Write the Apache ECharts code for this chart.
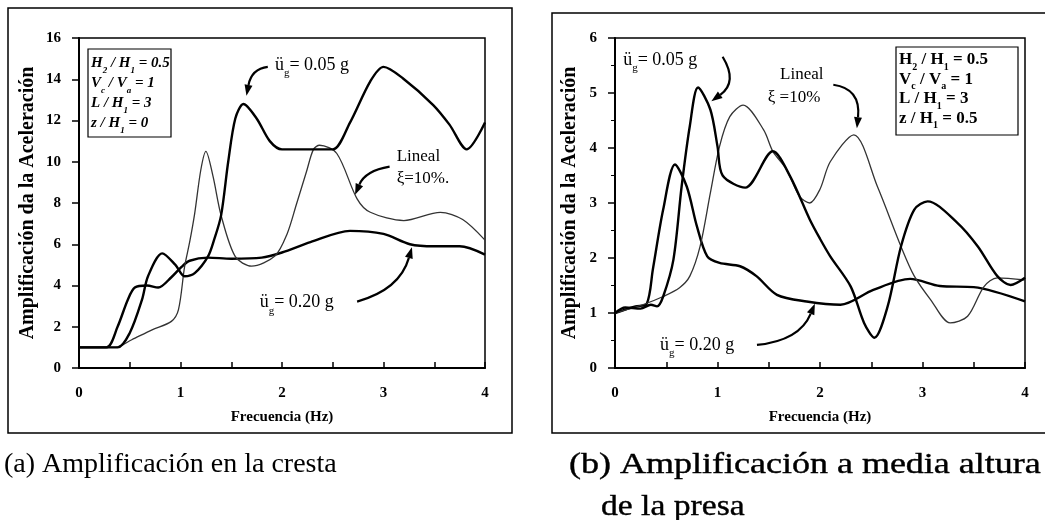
<!DOCTYPE html>
<html><head><meta charset="utf-8">
<script src="https://cdn.jsdelivr.net/npm/echarts@6/dist/echarts.min.js"></script>
<style>html,body{margin:0;padding:0;background:#fff}#c{width:1045px;height:520px}</style>
</head><body><div id="c"></div>
<script>
// ---------- Data: panel (a) crest ----------
const freqA005 = [0, 0.38, 0.5, 0.62, 0.68, 0.82, 0.95, 1.04, 1.14, 1.27, 1.33, 1.4, 1.47, 1.54, 1.62, 1.75, 1.88, 2.0, 2.3, 2.5, 2.67, 2.87, 3.0, 3.19, 3.49, 3.65, 3.82, 4.0];
const ampA005  = [1, 1, 1.7, 3.3, 4.45, 5.56, 5.0, 4.45, 4.6, 5.4, 6.2, 7.4, 10.0, 12.1, 12.8, 12.1, 11.0, 10.6, 10.6, 10.6, 11.9, 13.9, 14.6, 14.05, 12.75, 11.8, 10.6, 11.9];
const freqALin = [0, 0.36, 0.52, 0.72, 0.91, 0.98, 1.04, 1.09, 1.14, 1.2, 1.25, 1.32, 1.4, 1.54, 1.7, 1.93, 2.05, 2.14, 2.24, 2.31, 2.37, 2.54, 2.74, 2.87, 3.2, 3.56, 3.78, 4.0];
const ampALin  = [1, 1, 1.37, 1.85, 2.26, 2.83, 4.9, 6.1, 7.5, 9.6, 10.5, 9.3, 7.4, 5.4, 4.94, 5.43, 6.5, 7.9, 9.5, 10.6, 10.8, 10.4, 8.2, 7.55, 7.15, 7.55, 7.2, 6.2];
const freqA020 = [0, 0.27, 0.38, 0.48, 0.55, 0.67, 0.78, 0.91, 1.01, 1.09, 1.27, 1.5, 1.8, 2.0, 2.28, 2.67, 3.0, 3.26, 3.5, 3.75, 4.0];
const ampA020  = [1, 1, 2.0, 3.3, 3.9, 4.0, 3.9, 4.4, 4.9, 5.2, 5.35, 5.3, 5.35, 5.6, 6.1, 6.65, 6.5, 6.0, 5.9, 5.9, 5.5];

// ---------- Data: panel (b) mid-height ----------
const freqB005 = [0, 0.1, 0.25, 0.35, 0.41, 0.47, 0.57, 0.65, 0.73, 0.81, 0.93, 1.0, 1.05, 1.27, 1.54, 1.71, 1.9, 2.0, 2.1, 2.3, 2.43, 2.53, 2.66, 2.79, 2.92, 3.05, 3.34, 3.54, 3.73, 3.86, 4.0];
const ampB005  = [1.0, 1.1, 1.08, 1.15, 1.12, 1.3, 1.97, 3.3, 4.4, 5.1, 4.7, 4.03, 3.5, 3.28, 3.94, 3.48, 2.7, 2.35, 2.03, 1.48, 0.82, 0.55, 1.12, 2.21, 2.88, 3.03, 2.64, 2.21, 1.67, 1.51, 1.64];
const freqBLin = [0, 0.27, 0.47, 0.63, 0.73, 0.83, 0.93, 1.02, 1.12, 1.25, 1.45, 1.54, 1.67, 1.8, 1.9, 2.0, 2.1, 2.33, 2.56, 2.79, 2.92, 3.08, 3.27, 3.44, 3.6, 3.73, 4.0];
const ampBLin  = [1.0, 1.15, 1.3, 1.46, 1.67, 2.21, 3.18, 4.03, 4.57, 4.78, 4.33, 3.94, 3.62, 3.12, 3.0, 3.25, 3.75, 4.24, 3.3, 2.21, 1.67, 1.24, 0.82, 0.94, 1.48, 1.64, 1.6];
const freqB020 = [0, 0.2, 0.31, 0.37, 0.47, 0.585, 0.7, 0.8, 0.9, 1.02, 1.22, 1.38, 1.58, 1.87, 2.2, 2.52, 2.88, 3.17, 3.5, 4.0];
const ampB020  = [1.0, 1.12, 1.17, 1.8, 2.88, 3.7, 3.3, 2.57, 2.03, 1.91, 1.85, 1.67, 1.33, 1.21, 1.15, 1.42, 1.62, 1.49, 1.47, 1.21];

// Axis ranges / ticks
const xRange = [0, 4], xStep = 1;
const yRangeA = [0, 16], yStepA = 2;
const yRangeB = [0, 6], yStepB = 1;

// Texts
const yTitle = 'Amplificación da la Aceleración';
const xTitle = 'Frecuencia (Hz)';
const captionA = '(a) Amplificación en la cresta';
const captionB1 = '(b) Amplificación a media altura';
const captionB2 = 'de la presa';

const zip = (xs, ys) => xs.map((x, i) => [x, ys[i]]);
const SERIF = '"Liberation Serif", "DejaVu Serif", serif';

function xAxisCfg(g) {
  return {
    type: 'value', gridIndex: g, min: xRange[0], max: xRange[1], interval: xStep,
    axisLine: { show: true, onZero: false, lineStyle: { color: '#000', width: 2 } },
    axisTick: { show: true, inside: true, length: 6, lineStyle: { color: '#000', width: 1.5 } },
    minorTick: { show: true, splitNumber: 2, length: 6, lineStyle: { color: '#000', width: 1.5 } },
    splitLine: { show: false },
    axisLabel: { color: '#000', fontFamily: SERIF, fontWeight: 'bold', fontSize: 15, margin: 18 },
    name: xTitle, nameLocation: 'middle', nameGap: 42,
    nameTextStyle: { color: '#000', fontFamily: SERIF, fontWeight: 'bold', fontSize: 15 }
  };
}
function yAxisCfg(g, rng, step, gap, minor) {
  return {
    type: 'value', gridIndex: g, min: rng[0], max: rng[1], interval: step,
    axisLine: { show: true, onZero: false, lineStyle: { color: '#000', width: 2 } },
    axisTick: { show: true, inside: false, length: 7, lineStyle: { color: '#000', width: 1.5 } },
    minorTick: { show: minor, splitNumber: 2, length: 4, lineStyle: { color: '#000', width: 1 } },
    splitLine: { show: false },
    axisLabel: { color: '#000', fontFamily: SERIF, fontWeight: 'bold', fontSize: 15, margin: 18 },
    name: yTitle, nameLocation: 'middle', nameGap: gap,
    nameTextStyle: { color: '#000', fontFamily: SERIF, fontWeight: 'bold', fontSize: 20 }
  };
}
function lineSeries(name, g, xs, ys, thin) {
  return {
    name, type: 'line', xAxisIndex: g, yAxisIndex: g, data: zip(xs, ys),
    showSymbol: false, smooth: 0.3, animation: false, silent: true,
    lineStyle: { color: thin ? '#333' : '#000', width: thin ? 1.3 : 2.4 }
  };
}

const chart = echarts.init(document.getElementById('c'), null, { renderer: 'canvas' });
chart.setOption({
  backgroundColor: '#fff',
  animation: false,
  grid: [
    { left: 79, top: 38, width: 406, height: 330, show: true, borderColor: '#000', borderWidth: 1.5, backgroundColor: 'transparent' },
    { left: 615, top: 38, width: 410, height: 330, show: true, borderColor: '#000', borderWidth: 1.5, backgroundColor: 'transparent' }
  ],
  xAxis: [xAxisCfg(0), xAxisCfg(1)],
  yAxis: [yAxisCfg(0, yRangeA, yStepA, 41, false), yAxisCfg(1, yRangeB, yStepB, 35, true)],
  series: [
    lineSeries('0.20 g (a)', 0, freqA020, ampA020, false),
    lineSeries('Lineal (a)', 0, freqALin, ampALin, true),
    lineSeries('0.05 g (a)', 0, freqA005, ampA005, false),
    lineSeries('0.20 g (b)', 1, freqB020, ampB020, false),
    lineSeries('Lineal (b)', 1, freqBLin, ampBLin, true),
    lineSeries('0.05 g (b)', 1, freqB005, ampB005, false)
  ]
});

// ---------- Annotations (positions in data coordinates) ----------
const labels = [
  { g: 0, at: [1.93, 14.68], kind: 'acc', val: '0.05 g' },
  { g: 0, at: [3.13, 10.24], kind: 'txt', val: 'Lineal' },
  { g: 0, at: [3.13, 9.17], kind: 'txt', val: 'ξ=10%.' },
  { g: 0, at: [1.78, 3.17], kind: 'acc', val: '0.20 g' },
  { g: 1, at: [0.08, 5.6], kind: 'acc', val: '0.05 g' },
  { g: 1, at: [1.61, 5.33], kind: 'txt', val: 'Lineal' },
  { g: 1, at: [1.49, 4.91], kind: 'txt', val: 'ξ =10%' },
  { g: 1, at: [0.44, 0.42], kind: 'acc', val: '0.20 g' }
];
const arrows = [
  { g: 0, s: [1.86, 14.6], c: [1.70, 14.5], e: [1.65, 13.2] },
  { g: 0, s: [3.06, 9.76], c: [2.82, 9.56], e: [2.72, 8.4] },
  { g: 0, s: [2.74, 3.22], c: [3.16, 3.8], e: [3.28, 5.85] },
  { g: 1, s: [1.05, 5.66], c: [1.2, 5.2], e: [0.94, 4.85] },
  { g: 1, s: [2.13, 5.15], c: [2.4, 5.08], e: [2.36, 4.36] },
  { g: 1, s: [1.385, 0.42], c: [1.8, 0.5], e: [1.95, 1.17] }
];
const boxA = ['{i|H}{si|2}{i| / H}{si|1}{i| = 0.5}', '{i|V}{si|c}{i| / V}{si|a}{i| = 1}', '{i|L / H}{si|1}{i| = 3}', '{i|z / H}{si|1}{i| = 0}'];
const boxB = ['{n|H}{s|2}{n| / H}{s|1}{n| = 0.5}', '{n|V}{s|c}{n| / V}{s|a}{n| = 1}', '{n|L / H}{s|1}{n| = 3}', '{n|z / H}{s|1}{n| = 0.5}'];

const richBase = {
  n: { fontFamily: SERIF, fontSize: 17, fontWeight: 'bold', color: '#000', lineHeight: 20, verticalAlign: 'middle' },
  s: { fontFamily: SERIF, fontSize: 10, fontWeight: 'bold', color: '#000', lineHeight: 24, verticalAlign: 'bottom' },
  i: { fontFamily: SERIF, fontSize: 15, fontWeight: 'bold', fontStyle: 'italic', color: '#000', lineHeight: 20, verticalAlign: 'middle' },
  si: { fontFamily: SERIF, fontSize: 9, fontWeight: 'bold', fontStyle: 'italic', color: '#000', lineHeight: 24, verticalAlign: 'bottom' },
  t: { fontFamily: SERIF, fontSize: 18, color: '#000', lineHeight: 22, verticalAlign: 'middle' },
  l: { fontFamily: SERIF, fontSize: 17, color: '#000', lineHeight: 22, verticalAlign: 'middle' },
  ts: { fontFamily: SERIF, fontSize: 11, color: '#000', lineHeight: 27, verticalAlign: 'bottom' }
};

function px(g, p) { return chart.convertToPixel({ gridIndex: g }, p); }

const graphics = [];
// outer frames
graphics.push({ type: 'rect', shape: { x: 8, y: 8, width: 504, height: 425 }, style: { fill: 'none', stroke: '#000', lineWidth: 1.5 }, silent: true, z: 0 });
graphics.push({ type: 'rect', shape: { x: 552, y: 13, width: 520, height: 420 }, style: { fill: 'none', stroke: '#000', lineWidth: 1.5 }, silent: true, z: 0 });
// parameter boxes
graphics.push({ type: 'rect', shape: { x: 88, y: 49, width: 83, height: 88 }, style: { fill: '#fff', stroke: '#000', lineWidth: 1.2 }, z: 10 });
boxA.forEach((t, k) => graphics.push({ type: 'text', x: 91, y: 63 + k * 20, z: 11, style: { text: t, rich: richBase, verticalAlign: 'middle', align: 'left' } }));
graphics.push({ type: 'rect', shape: { x: 896, y: 47, width: 122, height: 88 }, style: { fill: '#fff', stroke: '#000', lineWidth: 1.2 }, z: 10 });
boxB.forEach((t, k) => graphics.push({ type: 'text', x: 899, y: 60 + k * 19.5, z: 11, style: { text: t, rich: richBase, verticalAlign: 'middle', align: 'left' } }));

labels.forEach(l => {
  const p = px(l.g, l.at);
  const txt = l.kind === 'acc' ? '{t|ü}{ts|g}{t|= ' + l.val + '}' : '{l|' + l.val + '}';
  graphics.push({ type: 'text', x: p[0], y: p[1], z: 12, style: { text: txt, rich: richBase, align: 'left', verticalAlign: 'middle' } });
});
arrows.forEach(a => {
  const s = px(a.g, a.s), c = px(a.g, a.c), e = px(a.g, a.e);
  const dx = e[0] - c[0], dy = e[1] - c[1], L = Math.hypot(dx, dy) || 1;
  const ux = dx / L, uy = dy / L, hl = 11, hw = 4;
  const bx = e[0] - ux * hl, by = e[1] - uy * hl;
  graphics.push({ type: 'bezierCurve', z: 12, shape: { x1: s[0], y1: s[1], cpx1: c[0], cpy1: c[1], x2: bx, y2: by }, style: { stroke: '#000', lineWidth: 2.2, fill: 'none' } });
  graphics.push({ type: 'polygon', z: 12, shape: { points: [[e[0], e[1]], [bx - uy * hw, by + ux * hw], [bx + uy * hw, by - ux * hw]] }, style: { fill: '#000' } });
});
// captions
graphics.push({ type: 'text', x: 4, y: 465, style: { text: captionA, font: '28px ' + SERIF, fill: '#000', verticalAlign: 'middle', align: 'left' } });
graphics.push({ type: 'text', x: 569, y: 465, scaleX: 1.2, style: { text: captionB1, font: '30px ' + SERIF, fill: '#000', stroke: '#000', lineWidth: 0.4, verticalAlign: 'middle', align: 'left' } });
graphics.push({ type: 'text', x: 601, y: 507, scaleX: 1.12, style: { text: captionB2, font: '30px ' + SERIF, fill: '#000', stroke: '#000', lineWidth: 0.4, verticalAlign: 'middle', align: 'left' } });

chart.setOption({ graphic: graphics });
</script></body></html>
